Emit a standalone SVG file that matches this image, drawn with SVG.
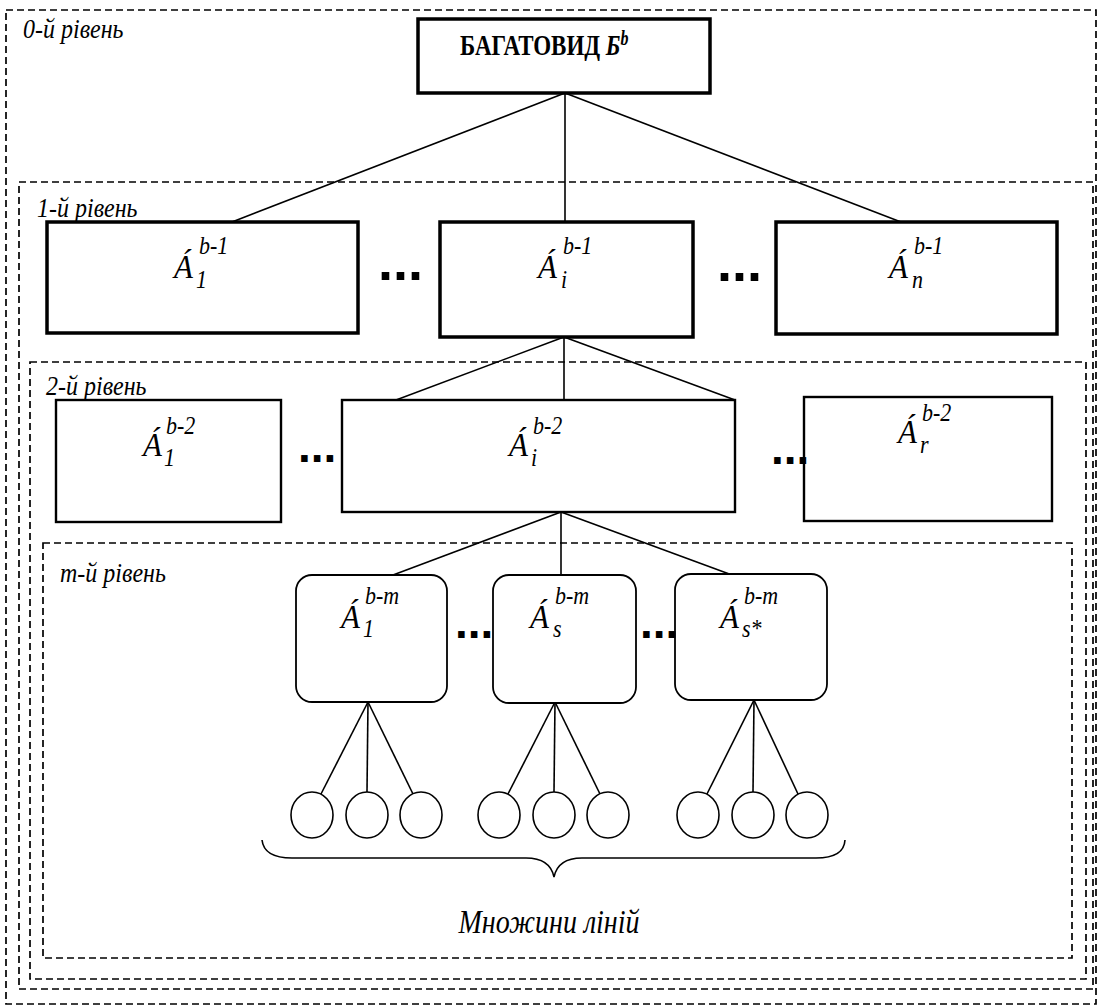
<svg xmlns="http://www.w3.org/2000/svg" width="1097" height="1005" viewBox="0 0 1097 1005">
<style>
.frame{fill:none;stroke:#000;stroke-width:1.7;stroke-dasharray:7 4}
.b1{fill:#fff;stroke:#000;stroke-width:3.5}
.b2{fill:#fff;stroke:#000;stroke-width:2.4}
.bm{fill:#fff;stroke:#000;stroke-width:1.8}
.ci{fill:#fff;stroke:#000;stroke-width:1.6}
.c{stroke:#000;stroke-width:1.6;fill:none}
text{font-family:"Liberation Serif","Times New Roman",serif;fill:#000}
.lvl{font-style:italic;font-size:24px}
.cap{font-style:italic;font-size:28px}
.A{font-style:italic;font-size:31px}
.s{font-style:italic;font-size:22px}
.d1{font-family:"Liberation Sans",Arial,sans-serif;font-weight:bold;font-size:54px}
.d2{font-family:"Liberation Sans",Arial,sans-serif;font-weight:bold;font-size:46px}
.title{font-weight:bold;font-size:23px}
</style>
<g id="frames">
<rect class="frame" x="6" y="10" width="1090" height="994"/>
<rect class="frame" x="19" y="182" width="1074" height="807"/>
<rect class="frame" x="30" y="362" width="1056" height="617"/>
<rect class="frame" x="43" y="543" width="1029" height="415"/>
</g>
<g id="connectors">
<line class="c" x1="565" y1="93" x2="232" y2="222"/>
<line class="c" x1="565" y1="93" x2="565" y2="222"/>
<line class="c" x1="565" y1="93" x2="901" y2="222"/>
<line class="c" x1="564" y1="337" x2="396" y2="400"/>
<line class="c" x1="564" y1="337" x2="564" y2="400"/>
<line class="c" x1="564" y1="337" x2="735" y2="400"/>
<line class="c" x1="561" y1="512" x2="393" y2="575"/>
<line class="c" x1="561" y1="512" x2="561" y2="575"/>
<line class="c" x1="561" y1="512" x2="732" y2="575"/>
<line class="c" x1="368" y1="702" x2="321" y2="794"/>
<line class="c" x1="368" y1="702" x2="367" y2="792"/>
<line class="c" x1="368" y1="702" x2="413" y2="794"/>
<line class="c" x1="555" y1="702" x2="508" y2="794"/>
<line class="c" x1="555" y1="702" x2="554" y2="792"/>
<line class="c" x1="555" y1="702" x2="600" y2="794"/>
<line class="c" x1="754" y1="700" x2="707" y2="794"/>
<line class="c" x1="754" y1="700" x2="753" y2="792"/>
<line class="c" x1="754" y1="700" x2="798" y2="794"/>
</g>
<g id="labels">
<text class="lvl" transform="translate(23 38) scale(1 1.12)">0-й рівень</text>
</g>
<g id="top">
<rect class="b1" x="418" y="19" width="292" height="74"/>
<text class="title" transform="translate(460 55) scale(1 1.3)">БАГАТОВИД <tspan font-style="italic">Б</tspan><tspan font-style="italic" font-size="16" dy="-8">b</tspan></text>
</g>
<g id="l1-1">
<rect class="b1" x="47" y="222" width="311" height="111"/>
<g transform="translate(0 278) scale(1 1.12) translate(0 -278)"><text class="A" x="174" y="278">Á</text><text class="s" x="199" y="257">b-1</text><text class="s" x="196" y="287">1</text></g>
</g>
<g id="l1-i">
<rect class="b1" x="440" y="222" width="253" height="115"/>
<g transform="translate(0 278) scale(1 1.12) translate(0 -278)"><text class="A" x="538" y="278">Á</text><text class="s" x="563" y="257">b-1</text><text class="s" x="561" y="287">i</text></g>
</g>
<g id="l1-n">
<rect class="b1" x="776" y="222" width="281" height="112"/>
<g transform="translate(0 278) scale(1 1.12) translate(0 -278)"><text class="A" x="889" y="278">Á</text><text class="s" x="914" y="257">b-1</text><text class="s" x="912" y="287">n</text></g>
</g>
<text class="d1" x="378" y="280">...</text>
<text class="d1" x="717" y="281">...</text>
<text class="lvl" transform="translate(37 217) scale(1 1.12)">1-й рівень</text>
<g id="l2-1">
<rect class="b2" x="56" y="400" width="225" height="122"/>
<g transform="translate(0 456) scale(1 1.12) translate(0 -456)"><text class="A" x="143" y="456">Á</text><text class="s" x="166" y="436">b-2</text><text class="s" x="164" y="465">1</text></g>
</g>
<g id="l2-i">
<rect class="b2" x="342" y="400" width="393" height="112"/>
<g transform="translate(0 456) scale(1 1.12) translate(0 -456)"><text class="A" x="509" y="456">Á</text><text class="s" x="533" y="436">b-2</text><text class="s" x="531" y="465">i</text></g>
</g>
<g id="l2-r">
<rect class="b2" x="804" y="397" width="248" height="124"/>
<g transform="translate(0 443) scale(1 1.12) translate(0 -443)"><text class="A" x="898" y="443">Á</text><text class="s" x="922" y="423">b-2</text><text class="s" x="920" y="452">r</text></g>
</g>
<text class="d2" x="298" y="462">...</text>
<text class="d2" x="771" y="464">...</text>
<text class="lvl" transform="translate(46 395) scale(1 1.12)">2-й рівень</text>
<text class="lvl" transform="translate(60 582) scale(1 1.12)">m-й рівень</text>
<g id="lm-1">
<rect class="bm" x="296" y="575" width="151" height="127" rx="16"/>
<g transform="translate(0 628) scale(1 1.12) translate(0 -628)"><text class="A" x="341" y="628">Á</text><text class="s" x="365" y="607">b-m</text><text class="s" x="363" y="636">1</text></g>
</g>
<g id="lm-s">
<rect class="bm" x="493" y="575" width="143" height="128" rx="16"/>
<g transform="translate(0 628) scale(1 1.12) translate(0 -628)"><text class="A" x="530" y="628">Á</text><text class="s" x="555" y="607">b-m</text><text class="s" x="553" y="636">s</text></g>
</g>
<g id="lm-s2">
<rect class="bm" x="675" y="574" width="152" height="126" rx="16"/>
<g transform="translate(0 628) scale(1 1.12) translate(0 -628)"><text class="A" x="720" y="628">Á</text><text class="s" x="744" y="607">b-m</text><text class="s" x="742" y="636">s*</text></g>
</g>
<text class="d2" x="455" y="638">...</text>
<text class="d2" x="640" y="638">...</text>
<g id="circles">
<ellipse class="ci" cx="312" cy="815" rx="21" ry="23"/>
<ellipse class="ci" cx="367" cy="815" rx="21" ry="23"/>
<ellipse class="ci" cx="421" cy="815" rx="21" ry="23"/>
<ellipse class="ci" cx="499" cy="815" rx="21" ry="23"/>
<ellipse class="ci" cx="554" cy="815" rx="21" ry="23"/>
<ellipse class="ci" cx="608" cy="815" rx="21" ry="23"/>
<ellipse class="ci" cx="698" cy="815" rx="21" ry="23"/>
<ellipse class="ci" cx="753" cy="815" rx="21" ry="23"/>
<ellipse class="ci" cx="807" cy="815" rx="21" ry="23"/>
</g>
<path class="c" d="M262,840 Q264,858 292,858 L526,858 Q550,858 554,877 Q558,858 582,858 L816,858 Q844,858 845,840"/>
<text class="cap" text-anchor="middle" transform="translate(549 933) scale(1 1.2)">Множини ліній</text>
</svg>
